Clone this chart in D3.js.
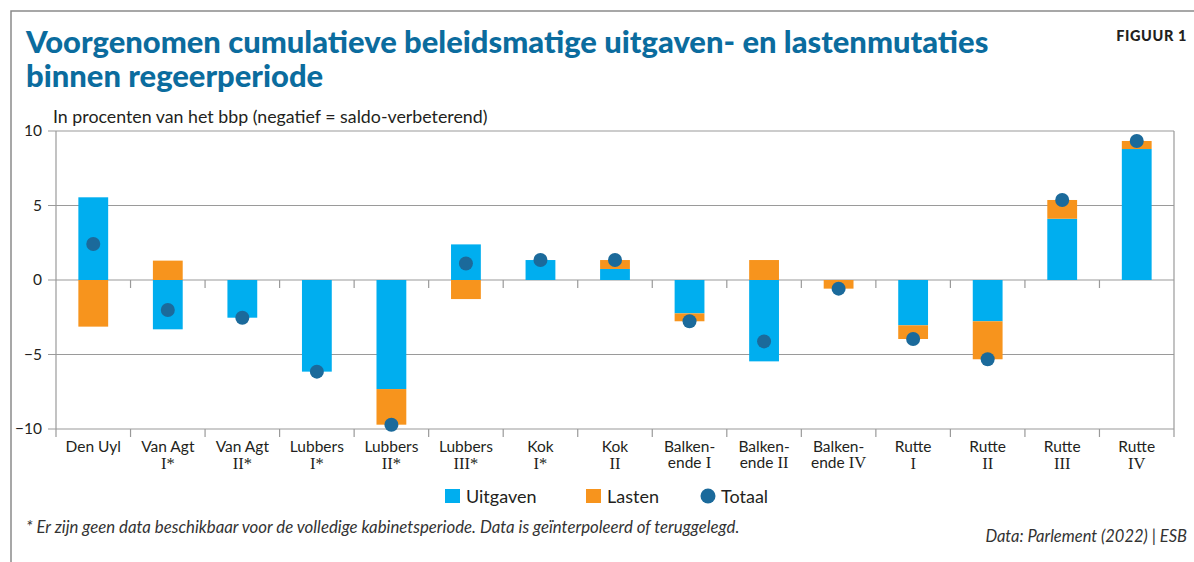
<!DOCTYPE html>
<html>
<head>
<meta charset="utf-8">
<script src="https://cdn.jsdelivr.net/npm/d3@7"></script>
<style>
  body { margin: 0; background: #fff; }
  svg text { font-family: Lato, "Open Sans", sans-serif; }
</style>
</head>
<body>
<div id="chart"></div>
<script>
// data (percent of GDP)
const cabinets = ["Den Uyl", "Van Agt I*", "Van Agt II*", "Lubbers I*", "Lubbers II*", "Lubbers III*",
    "Kok I*", "Kok II", "Balkenende I", "Balkenende II", "Balkenende IV", "Rutte I", "Rutte II", "Rutte III", "Rutte IV"];
const labelLines = [["Den Uyl"], ["Van Agt", "I*"], ["Van Agt", "II*"], ["Lubbers", "I*"], ["Lubbers", "II*"],
    ["Lubbers", "III*"], ["Kok", "I*"], ["Kok", "II"], ["Balken-", "ende I"], ["Balken-", "ende II"],
    ["Balken-", "ende IV"], ["Rutte", "I"], ["Rutte", "II"], ["Rutte", "III"], ["Rutte", "IV"]];
const uitgaven = [5.55, -3.31, -2.53, -6.15, -7.32, 2.39, 1.34, 0.74, -2.24, -5.46, 0, -3.04, -2.77, 4.11, 8.79];
const lasten   = [-3.13, 1.30, 0, 0, -2.39, -1.28, 0, 0.60, -0.53, 1.34, -0.58, -0.92, -2.55, 1.26, 0.54];
const totaal   = [2.42, -2.01, -2.53, -6.15, -9.71, 1.11, 1.34, 1.34, -2.77, -4.12, -0.58, -3.96, -5.32, 5.37, 9.33];
const yTicks = [10, 5, 0, -5, -10];

const colors = { uitgaven: "#00aeef", lasten: "#f7941d", totaal: "#1b6a9b" };

var W = 1194, H = 562;
var margin = { top: 131, right: 20, bottom: 125, left: 56 },
    width = 1174 - margin.left,
    height = 429 - margin.top;

var root = d3.select("#chart").append("svg")
    .attr("width", W).attr("height", H);

// frame (top + left border)
root.append("path")
    .attr("d", "M11,562 V11 H1194")
    .attr("fill", "none").attr("stroke", "#8a8a8a").attr("stroke-width", 1.5);

// title, two lines in one text element
var title = root.append("text")
    .attr("fill", "#0b6c9e")
    .style("font-weight", 900)
    .style("font-size", "32px");
var t1 = title.append("tspan").attr("x", 26).attr("y", 53)
    .text("Voorgenomen cumulatieve beleidsmatige uitgaven- en lastenmutaties");
var fit = 963 / t1.node().getComputedTextLength();
title.style("font-size", Math.min(34, 32 * fit) + "px");
title.append("tspan").attr("x", 26).attr("y", 87)
    .text("binnen regeerperiode");

root.append("text").attr("x", 1187).attr("y", 41)
    .attr("text-anchor", "end")
    .style("font-size", "14.5px").style("font-weight", 900)
    .style("letter-spacing", "0.6px")
    .attr("fill", "#231f20")
    .text("FIGUUR 1");

root.append("text").attr("x", 53).attr("y", 123)
    .style("font-size", "17.8px").attr("fill", "#231f20")
    .text("In procenten van het bbp (negatief = saldo-verbeterend)");

var svg = root.append("g")
    .attr("transform", "translate(" + margin.left + "," + margin.top + ")");

var x = d3.scaleBand()
    .domain(cabinets)
    .range([0, width]);

var y = d3.scaleLinear()
    .domain([-10, 10])
    .range([height, 0]);

// horizontal grid lines + left ticks
svg.append("g")
    .selectAll("line")
    .data(yTicks)
    .enter().append("line")
    .attr("x1", -8).attr("x2", width)
    .attr("y1", d => y(d)).attr("y2", d => y(d))
    .attr("stroke", "#9a9a9a").attr("stroke-width", 1.2);

svg.append("g")
    .selectAll("text")
    .data(yTicks)
    .enter().append("text")
    .attr("x", -14).attr("y", d => y(d))
    .attr("dy", "0.35em")
    .attr("text-anchor", "end")
    .style("font-size", "15.5px").attr("fill", "#231f20")
    .text(d => d < 0 ? "\u2212" + Math.abs(d) : d);

// vertical borders
[0, width].forEach(function (xx) {
    svg.append("line")
        .attr("x1", xx).attr("x2", xx)
        .attr("y1", 0).attr("y2", height + 8)
        .attr("stroke", "#9a9a9a").attr("stroke-width", 1.2);
});

// category separators on zero line and bottom line
var seps = cabinets.slice(1).map(c => x(c));
[y(0), height].forEach(function (yy) {
    svg.append("g").selectAll("line")
        .data(seps)
        .enter().append("line")
        .attr("x1", d => d).attr("x2", d => d)
        .attr("y1", yy).attr("y2", yy + 8)
        .attr("stroke", "#9a9a9a").attr("stroke-width", 1.2);
});

// stacked bars
var table = cabinets.map((c, i) => ({ cabinet: c, uitgaven: uitgaven[i], lasten: lasten[i] }));
var series = d3.stack()
    .keys(["uitgaven", "lasten"])
    .offset(d3.stackOffsetDiverging)(table);

var barW = x.bandwidth() * 0.4;

svg.append("g")
    .selectAll("g")
    .data(series)
    .enter().append("g")
    .attr("fill", d => colors[d.key])
    .selectAll("rect")
    .data(d => d)
    .enter().append("rect")
    .attr("x", d => x(d.data.cabinet) + (x.bandwidth() - barW) / 2)
    .attr("y", d => y(Math.max(d[0], d[1])))
    .attr("width", barW)
    .attr("height", d => Math.abs(y(d[0]) - y(d[1])));

// totaal dots
svg.append("g")
    .selectAll("circle")
    .data(totaal)
    .enter().append("circle")
    .attr("cx", (d, i) => x(cabinets[i]) + x.bandwidth() / 2)
    .attr("cy", d => y(d))
    .attr("r", 7)
    .attr("fill", colors.totaal);

// x labels (roman numerals set in a serif face, like the original)
var roman = /^[IVX]+\*?$/;
var labels = svg.append("g")
    .selectAll("text")
    .data(labelLines)
    .enter().append("text")
    .attr("x", (d, i) => x(cabinets[i]) + x.bandwidth() / 2)
    .attr("y", height + 23)
    .attr("text-anchor", "middle")
    .style("font-size", "15.5px").attr("fill", "#231f20");

labels.each(function (lines) {
    var t = d3.select(this);
    lines.forEach(function (line, li) {
        var words = line.split(" ");
        words.forEach(function (w, wi) {
            var ts = t.append("tspan").text((wi > 0 ? " " : "") + w);
            if (wi === 0) ts.attr("x", t.attr("x")).attr("dy", li === 0 ? 0 : "1.05em");
            if (roman.test(w)) ts.style("font-family", "'Liberation Serif', 'DejaVu Serif', serif")
                .style("font-size", "16.5px");
        });
    });
});

// legend
var legend = root.append("g").style("font-size", "18px").attr("fill", "#231f20");
legend.append("rect").attr("x", 445).attr("y", 489).attr("width", 15).attr("height", 14).attr("fill", colors.uitgaven);
legend.append("text").attr("x", 466).attr("y", 503).text("Uitgaven");
legend.append("rect").attr("x", 586).attr("y", 489).attr("width", 15).attr("height", 14).attr("fill", colors.lasten);
legend.append("text").attr("x", 607).attr("y", 503).text("Lasten");
legend.append("circle").attr("cx", 708).attr("cy", 496).attr("r", 7.5).attr("fill", colors.totaal);
legend.append("text").attr("x", 721).attr("y", 503).text("Totaal");

// footer
root.append("text").attr("x", 26).attr("y", 533)
    .style("font-size", "16.8px").style("font-style", "italic").attr("fill", "#333")
    .text("* Er zijn geen data beschikbaar voor de volledige kabinetsperiode. Data is ge\u00efnterpoleerd of teruggelegd.");
root.append("text").attr("x", 1187).attr("y", 542)
    .attr("text-anchor", "end")
    .style("font-size", "16.5px").style("font-style", "italic").attr("fill", "#333")
    .text("Data: Parlement (2022) | ESB");
</script>
</body>
</html>
